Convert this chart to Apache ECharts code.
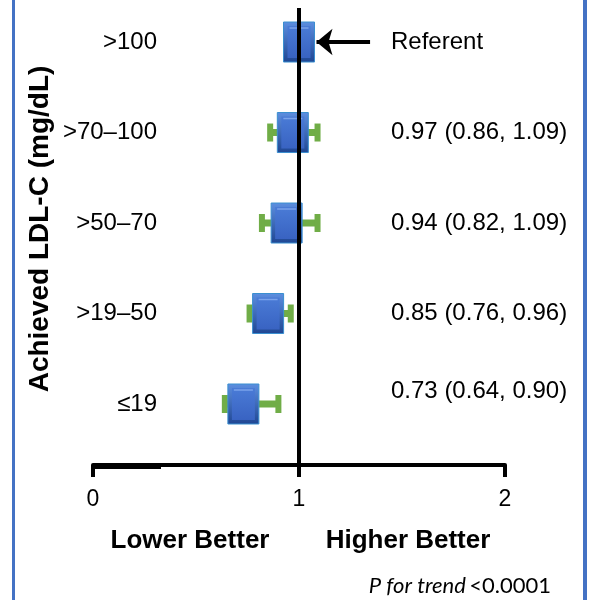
<!DOCTYPE html>
<html>
<head>
<meta charset="utf-8">
<script src="https://cdn.jsdelivr.net/npm/echarts@6/dist/echarts.min.js"></script>
<style>
  html, body { margin: 0; padding: 0; background: #fff; }
  #chart { width: 596px; height: 600px; }
</style>
</head>
<body>
<div id="chart"></div>
<script>
// Achieved LDL-C groups, bottom row first
const groups = ['≤19', '>19–50', '>50–70', '>70–100', '>100'];
const estimates = [0.73, 0.85, 0.94, 0.97, 1.0];
const lowerCI = [0.64, 0.76, 0.82, 0.86, null];
const upperCI = [0.90, 0.96, 1.09, 1.09, null];
const effectText = ['0.73 (0.64, 0.90)', '0.85 (0.76, 0.96)', '0.94 (0.82, 1.09)', '0.97 (0.86, 1.09)', 'Referent'];
const xTicks = [0, 1, 2];

const chart = echarts.init(document.getElementById('chart'), null, { renderer: 'canvas' });

const rowIdx = groups.map((_, i) => i);
const ciData = rowIdx.filter(i => lowerCI[i] != null).map(i => [i, lowerCI[i], upperCI[i]]);
const pointData = rowIdx.map(i => [estimates[i], i]);

const FONT = '"Liberation Sans", Arial, sans-serif';
const ROW_FONT = 24;
const Y_MIN = -0.674, Y_MAX = 4.376;

chart.setOption({
  animation: false,
  grid: { left: 93, right: 91, top: 8, bottom: 135 },
  xAxis: {
    type: 'value', min: 0, max: 2, interval: 1,
    splitLine: { show: false },
    axisLine: { show: true, onZero: false, lineStyle: { color: '#000', width: 4 } },
    axisTick: { show: true, length: 12, lineStyle: { color: '#000', width: 4 } },
    axisLabel: {
      margin: 23, color: '#000', fontSize: 23, fontFamily: FONT,
      formatter: v => xTicks.includes(v) ? String(v) : ''
    }
  },
  yAxis: [
    {
      type: 'value', min: Y_MIN, max: Y_MAX, position: 'left', offset: -64,
      splitLine: { show: false }, axisLine: { show: false }, axisTick: { show: false },
      axisLabel: {
        customValues: rowIdx, margin: 0, align: 'right', color: '#000',
        fontSize: ROW_FONT, fontFamily: FONT,
        formatter: v => groups[Math.round(v)]
      }
    },
    {
      type: 'value', min: Y_MIN, max: Y_MAX, position: 'right', offset: -114,
      splitLine: { show: false }, axisLine: { show: false }, axisTick: { show: false },
      axisLabel: {
        customValues: rowIdx, margin: 0, align: 'left', color: '#000',
        fontSize: ROW_FONT, fontFamily: FONT,
        formatter: v => {
          const i = Math.round(v);
          return i === 0 ? '{lift|' + effectText[i] + '}' : effectText[i];
        },
        rich: { lift: { fontSize: ROW_FONT, fontFamily: FONT, color: '#000', padding: [0, 0, 26, 0] } }
      }
    }
  ],
  graphic: [
    // side frame lines
    { type: 'rect', shape: { x: 12, y: 0, width: 3, height: 600 }, style: { fill: '#4472C4' } },
    { type: 'rect', shape: { x: 583, y: 0, width: 4, height: 600 }, style: { fill: '#4472C4' } },
    {
      type: 'text', x: 40, y: 229, rotation: Math.PI / 2,
      style: { text: 'Achieved LDL-C (mg/dL)', fill: '#000', font: 'bold 28px ' + FONT,
               textAlign: 'center', textVerticalAlign: 'middle' }
    },
    {
      type: 'text', x: 190, y: 541,
      style: { text: 'Lower Better', fill: '#000', font: 'bold 26px ' + FONT,
               textAlign: 'center', textVerticalAlign: 'middle' }
    },
    {
      type: 'text', x: 408, y: 541,
      style: { text: 'Higher Better', fill: '#000', font: 'bold 26px ' + FONT,
               textAlign: 'center', textVerticalAlign: 'middle' }
    },
    {
      type: 'text', right: 45, top: 575,
      style: {
        text: '{i|P for trend} {n|<0.0001}',
        rich: {
          i: { fontFamily: 'Lato, "Open Sans", sans-serif', fontStyle: 'italic', fontSize: 22, fill: '#000' },
          n: { fontFamily: 'Lato, "Open Sans", sans-serif', fontSize: 22, fill: '#000' }
        }
      }
    }
  ],
  series: [
    {
      // reference line at hazard ratio 1
      type: 'line', data: [], silent: true,
      markLine: {
        silent: true, symbol: ['none', 'none'], label: { show: false },
        lineStyle: { color: '#000', width: 4, type: 'solid' },
        data: [ { xAxis: 1 } ]
      }
    },
    {
      // heavier stub under the start of the axis line
      type: 'custom', silent: true, clip: false, z: 5,
      data: [[0, 0.33]],
      encode: { x: [0, 1] },
      renderItem: (params, api) => {
        const a = api.coord([api.value(0), Y_MIN]);
        const b = api.coord([api.value(1), Y_MIN]);
        return { type: 'rect', shape: { x: a[0] - 2, y: a[1], width: b[0] - a[0] + 2, height: 4 }, style: { fill: '#000' } };
      }
    },
    {
      // arrow pointing at the referent box
      type: 'line', data: [], silent: true,
      markLine: {
        silent: true, symbol: ['arrow', 'none'], symbolSize: [20, 16], label: { show: false },
        lineStyle: { color: '#000', width: 4, type: 'solid' },
        data: [ [ { coord: [1.085, 4] }, { coord: [1.345, 4] } ] ]
      }
    },
    {
      // confidence intervals with end caps
      type: 'custom',
      data: ciData,
      z: 3,
      encode: { x: [1, 2], y: 0 },
      renderItem: (params, api) => {
        const y = api.value(0);
        const a = api.coord([api.value(1), y]);
        const b = api.coord([api.value(2), y]);
        const green = '#70AD47';
        const capH = 18, capW = 6, barH = 7;
        return {
          type: 'group',
          children: [
            { type: 'rect', shape: { x: a[0], y: a[1] - barH / 2, width: b[0] - a[0], height: barH }, style: { fill: green } },
            { type: 'rect', shape: { x: a[0] - capW / 2, y: a[1] - capH / 2, width: capW, height: capH }, style: { fill: green } },
            { type: 'rect', shape: { x: b[0] - capW / 2, y: b[1] - capH / 2, width: capW, height: capH }, style: { fill: green } }
          ]
        };
      }
    },
    {
      // point estimates drawn as bevelled blue boxes
      type: 'custom',
      data: pointData,
      z: 4,
      encode: { x: 0, y: 1 },
      renderItem: (params, api) => {
        const p = api.coord([api.value(0), api.value(1)]);
        const w = 31, h = 40, inset = 4;
        const x0 = p[0] - w / 2, y0 = p[1] - h / 2;
        return {
          type: 'group',
          children: [
            { type: 'rect', shape: { x: x0, y: y0, width: w, height: h },
              style: { fill: new echarts.graphic.LinearGradient(0, 0, 0, 1, [
                { offset: 0, color: '#5d8fe0' }, { offset: 1, color: '#1f4692' }]),
                stroke: '#3a8fd0', lineWidth: 1 } },
            { type: 'rect', shape: { x: x0 + inset, y: y0 + inset, width: w - 2 * inset, height: h - 2 * inset },
              style: { fill: new echarts.graphic.LinearGradient(0, 0, 0, 1, [
                { offset: 0, color: '#4a7bd6' }, { offset: 1, color: '#3963c2' }]) } },
            { type: 'line', shape: { x1: x0 + inset + 2, y1: y0 + inset + 2, x2: x0 + w - inset - 2, y2: y0 + inset + 2 },
              style: { stroke: '#7aa3ea', lineWidth: 1.5 } }
          ]
        };
      }
    }
  ]
});
</script>
</body>
</html>
